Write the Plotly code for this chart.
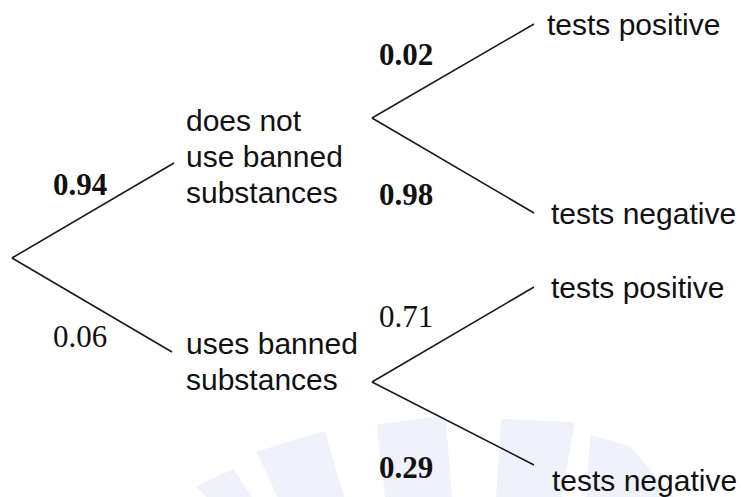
import plotly.graph_objects as go

# ---- data ----
stage1_labels = [["does not", "use banned", "substances"], ["uses banned", "substances"]]
stage2_labels = ["tests positive", "tests negative"]
stage1_probs = ["0.94", "0.06"]
stage2_probs_not = ["0.02", "0.98"]
stage2_probs_uses = ["0.71", "0.29"]

# ---- layout geometry (pixels in a 741x497 canvas) ----
W, H = 741, 497
root = (12, 258)
mid_nodes = [(174, 163), (172, 352)]
mid_vertices = [(372, 118), (372, 382)]
leaf_ends = [[(534, 24), (534, 213)], [(534, 287), (534, 465)]]

prob_pos_stage1 = [(51, 184), (51, 336)]
prob_pos_stage2 = [[(377, 54), (377, 194)], [(377, 316), (377, 467)]]
bold_stage1 = [True, False]
bold_stage2 = [[True, True], [False, True]]

mid_label_first_line = [(184, 120), (184, 343)]
line_step = 36
leaf_label_pos = [[(545, 24), (549, 213)], [(549, 287), (550, 480)]]

# faint watermark blobs (decoration)
watermark = [
    [(203, 488), (232, 474), (247, 497), (212, 497)],
    [(262, 454), (322, 436), (340, 497), (282, 497)],
    [(381, 428), (442, 420), (448, 497), (389, 497)],
    [(505, 423), (570, 426), (558, 497), (500, 497)],
    [(594, 440), (628, 450), (668, 497), (590, 497)],
]

fig = go.Figure()

shapes = []
for poly in watermark:
    path = "M " + " L ".join(f"{x},{y}" for x, y in poly) + " Z"
    shapes.append(dict(type="path", path=path, xref="x", yref="y", layer="below",
                       fillcolor="#F0F2FB", line=dict(color="#F0F2FB", width=8)))

def seg(p, q):
    fig.add_trace(go.Scatter(x=[p[0], q[0]], y=[p[1], q[1]], mode="lines",
                             line=dict(color="#1a1a1a", width=1.6),
                             hoverinfo="skip", showlegend=False))

for m in mid_nodes:
    seg(root, m)
for i, v in enumerate(mid_vertices):
    for e in leaf_ends[i]:
        seg(v, e)

serif = "Liberation Serif, Times New Roman, serif"
sans = "Liberation Sans, Arial, sans-serif"

def num(txt, pos, bold):
    fig.add_annotation(x=pos[0], y=pos[1], text=(f"<b>{txt}</b>" if bold else txt),
                       showarrow=False, xanchor="left", yanchor="middle",
                       font=dict(family=serif, size=31, color="#111"))

def lab(txt, pos):
    fig.add_annotation(x=pos[0], y=pos[1], text=txt, showarrow=False,
                       xanchor="left", yanchor="middle", align="left",
                       font=dict(family=sans, size=30, color="#111"))

for i in range(2):
    num(stage1_probs[i], prob_pos_stage1[i], bold_stage1[i])
    x0, y0 = mid_label_first_line[i]
    for k, line in enumerate(stage1_labels[i]):
        lab(line, (x0, y0 + k * line_step))
stage2_probs = [stage2_probs_not, stage2_probs_uses]
for i in range(2):
    for j in range(2):
        num(stage2_probs[i][j], prob_pos_stage2[i][j], bold_stage2[i][j])
        lab(stage2_labels[j], leaf_label_pos[i][j])

fig.update_layout(width=W, height=H, margin=dict(l=0, r=0, t=0, b=0),
                  paper_bgcolor="white", plot_bgcolor="white", shapes=shapes,
                  xaxis=dict(range=[0, W], visible=False, fixedrange=True),
                  yaxis=dict(range=[H, 0], visible=False, fixedrange=True))
fig.write_html("out.html", config={"displayModeBar": False},
               post_script="document.body.style.margin='0';document.body.style.overflow='hidden';")
